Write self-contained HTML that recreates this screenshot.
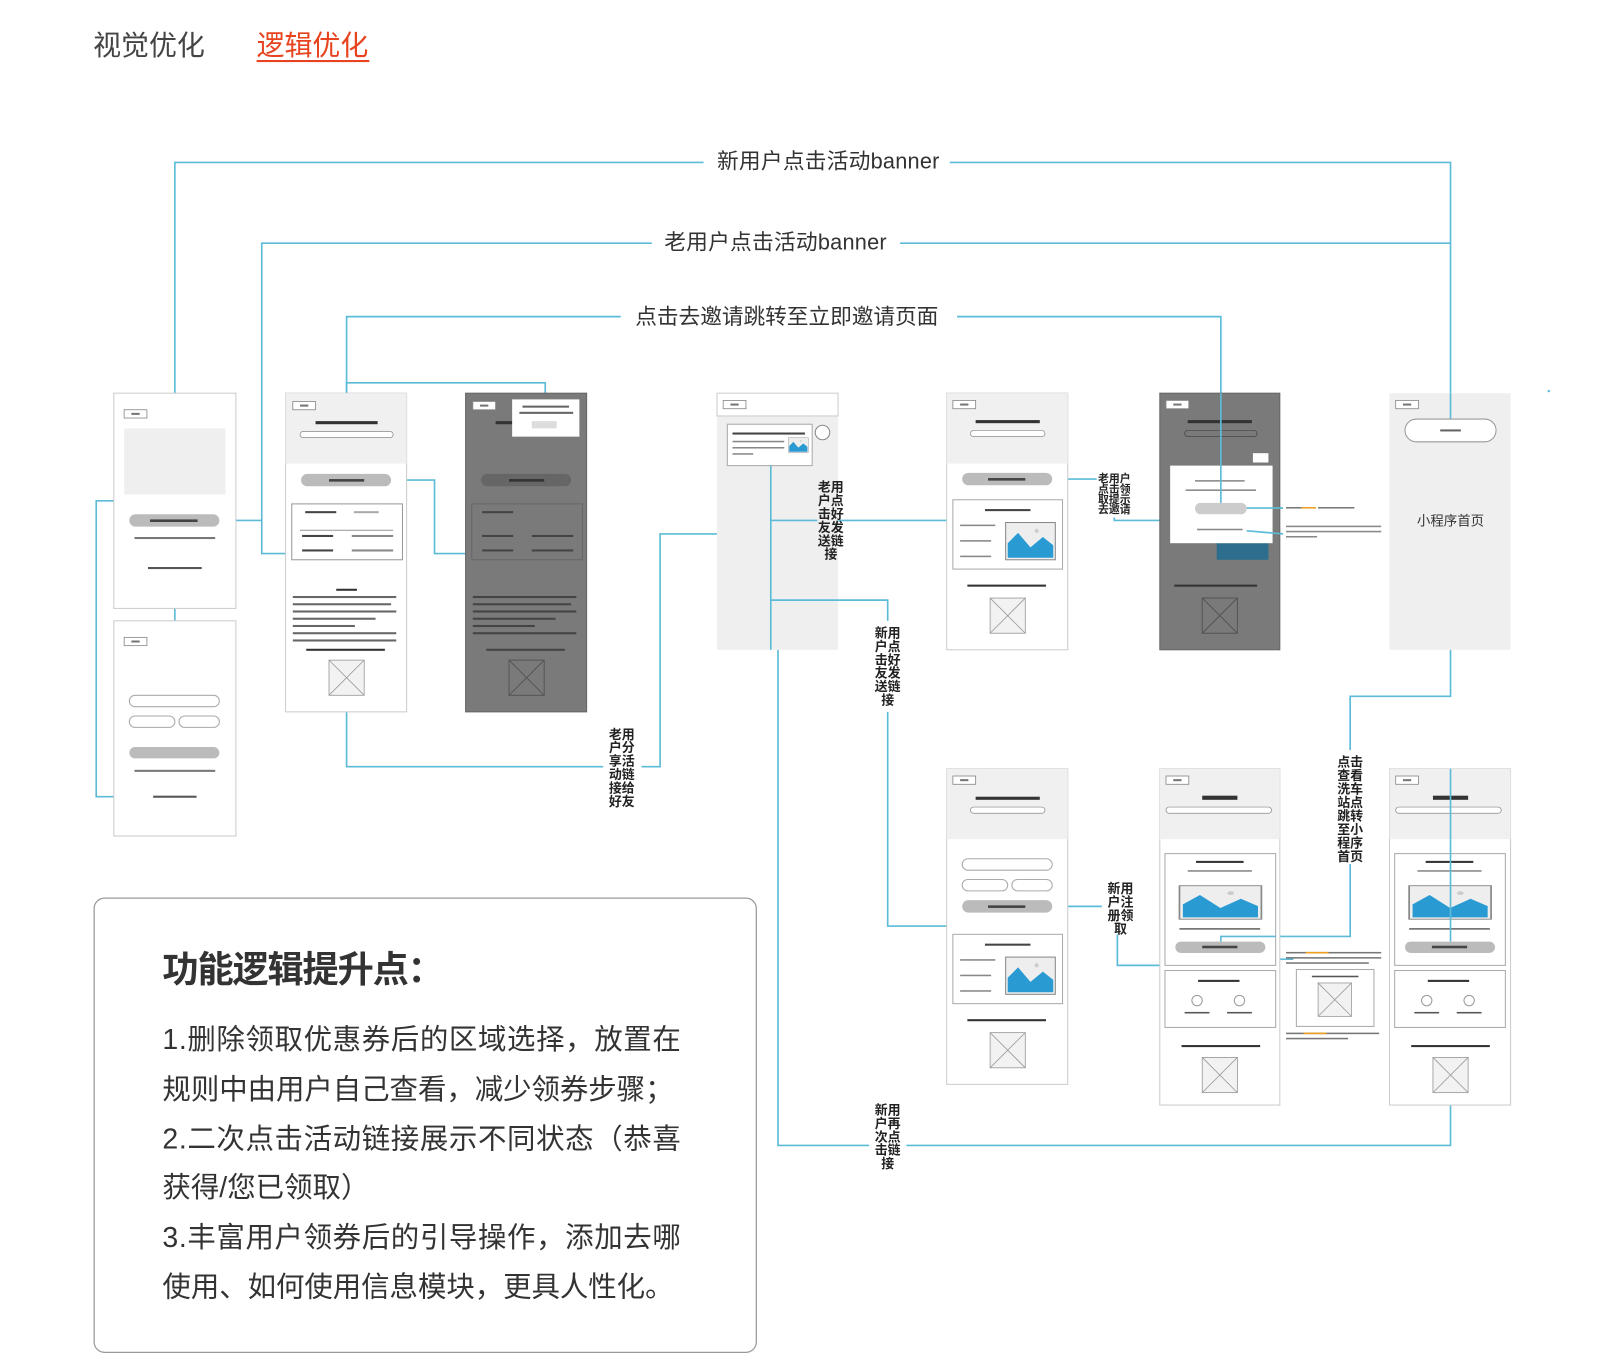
<!DOCTYPE html>
<html><head><meta charset="utf-8"><style>
html,body{margin:0;padding:0;background:#fff}
svg{display:block}
text{font-family:"Liberation Sans","Noto Sans CJK SC",sans-serif}
</style></head><body>
<svg width="1614" height="1372" viewBox="0 0 1560 1326" preserveAspectRatio="none" xmlns="http://www.w3.org/2000/svg">
<defs>
<g id="ph">
 <rect x="0" y="0" width="34" height="34" fill="#f2f2f2" stroke="#999" stroke-width="0.8"/>
 <line x1="0" y1="0" x2="34" y2="34" stroke="#999" stroke-width="0.8"/>
 <line x1="34" y1="0" x2="0" y2="34" stroke="#999" stroke-width="0.8"/>
</g>
<g id="logo"><rect x="0" y="0" width="22" height="8" fill="#fff" stroke="#888" stroke-width="0.8"/><rect x="7" y="3" width="8" height="2" fill="#777"/></g>
<g id="mtn">
 <rect x="0" y="0" width="48" height="36" fill="#eee" stroke="#888" stroke-width="1"/>
 <polygon points="2,34 2,20 12,10 24,24 36,14 46,22 46,34" fill="#2a9ad2"/>
 <circle cx="30" cy="8" r="2" fill="#ccc"/>
</g>
</defs>

<!-- tabs -->
<text x="90" y="53" font-size="27" fill="#444">视觉优化</text>
<text x="248" y="53" font-size="27" fill="#e8431f">逻辑优化</text>
<rect x="248" y="58" width="109" height="2" fill="#e8431f"/>

<!-- connectors -->
<g fill="none" stroke="#5cbcd8" stroke-width="1.6">
 <polyline points="169,380 169,157 680,157"/>
 <polyline points="918,157 1402,157 1402,405"/>
 <polyline points="276,535 253,535 253,235 630,235"/>
 <polyline points="870,235 1402,235"/>
 <polyline points="335,380 335,306 600,306"/>
 <polyline points="925,306 1180,306 1180,490"/>
 <polyline points="335,380 335,370 527,370 527,405"/>
 <polyline points="212,503 253,503"/>
 <polyline points="378,464 420,464 420,535 450,535"/>
 <polyline points="169,550 169,600"/>
 <polyline points="130,770 93,770 93,484 110,484"/>
 <polyline points="335,688 335,741 583,741"/>
 <polyline points="620,741 638,741 638,516 693,516"/>
 <polyline points="745,450 745,580 858,580 858,600"/>
 <polyline points="858,688 858,895 915,895"/>
 <polyline points="745,503 790,503"/>
 <polyline points="822,503 915,503"/>
 <polyline points="752,628 752,1107 840,1107"/>
 <polyline points="876,1107 1402,1107 1402,1068"/>
 <polyline points="1017,463 1060,463"/>
 <polyline points="1077,500 1077,503 1121,503"/>
 <polyline points="1205,491 1240,491"/>
 <polyline points="1205,513 1225,513 1240,516"/>
 <polyline points="1402,628 1402,673 1305,673 1305,725"/>
 <polyline points="1305,835 1305,905 1180,905 1180,910"/>
 <polyline points="1017,876 1065,876"/>
 <polyline points="1080,903 1080,933 1121,933"/>
 <polyline points="1222,915 1233,915 1233,927 1250,927"/>
</g>
<circle cx="1497" cy="378" r="1.2" fill="#5cbcd8"/>

<!-- connector labels -->
<g font-size="21" fill="#333">
 <text x="693" y="163" textLength="215">新用户点击活动banner</text>
 <text x="642" y="241" textLength="215">老用户点击活动banner</text>
 <text x="614" y="313" textLength="293">点击去邀请跳转至立即邀请页面</text>
</g>

<!-- B1 -->
<rect x="110" y="380" width="118" height="208" fill="#fff" stroke="#ccc"/>
<use href="#logo" x="120" y="396"/>
<rect x="120" y="414" width="98" height="64" fill="#efefef"/>
<rect x="125" y="497" width="87" height="12" rx="6" fill="#bbb"/>
<rect x="145" y="502" width="46" height="2.5" fill="#444"/>
<rect x="130" y="519" width="78" height="2" fill="#777"/>
<rect x="143" y="548" width="52" height="2" fill="#555"/>
<!-- B1b -->
<rect x="110" y="600" width="118" height="208" fill="#fff" stroke="#ccc"/>
<use href="#logo" x="120" y="616"/>
<rect x="125" y="672" width="87" height="11" rx="5.5" fill="#fff" stroke="#aaa"/>
<rect x="125" y="692" width="44" height="11" rx="5.5" fill="#fff" stroke="#aaa"/>
<rect x="173" y="692" width="39" height="11" rx="5.5" fill="#fff" stroke="#aaa"/>
<rect x="125" y="722" width="87" height="11" rx="5.5" fill="#bbb"/>
<rect x="130" y="744" width="78" height="2" fill="#777"/>
<rect x="148" y="769" width="42" height="2" fill="#555"/>

<!-- B2 -->
<rect x="276" y="380" width="117" height="308" fill="#fff" stroke="#ccc"/>
<rect x="276" y="380" width="117" height="68" fill="#f0f0f0"/>
<use href="#logo" x="283" y="388"/>
<rect x="305" y="407" width="60" height="3" fill="#333"/>
<rect x="290" y="417" width="90" height="6" rx="3" fill="#fff" stroke="#888" stroke-width="0.7"/>
<rect x="291" y="458" width="87" height="12" rx="6" fill="#bbb"/>
<rect x="318" y="463" width="34" height="2.5" fill="#444"/>
<rect x="282" y="487" width="107" height="54" fill="#fff" stroke="#999"/>
<rect x="295" y="494" width="30" height="2" fill="#444"/><rect x="342" y="494" width="24" height="2" fill="#aaa"/>
<rect x="290" y="512" width="90" height="1" fill="#999"/>
<rect x="292" y="517" width="30" height="2" fill="#444"/><rect x="340" y="517" width="40" height="2" fill="#888"/>
<rect x="292" y="531" width="30" height="2" fill="#444"/><rect x="340" y="531" width="40" height="2" fill="#888"/>
<rect x="325" y="569" width="20" height="2" fill="#333"/>
<g fill="#666"><rect x="283" y="576" width="100" height="2"/><rect x="283" y="583" width="95" height="2"/><rect x="283" y="590" width="100" height="2"/><rect x="283" y="597" width="80" height="2"/><rect x="283" y="604" width="60" height="2"/><rect x="283" y="611" width="100" height="2"/><rect x="283" y="618" width="100" height="2"/></g>
<rect x="296" y="627" width="76" height="2" fill="#333"/>
<use href="#ph" x="318" y="638"/>

<!-- B3 dark -->
<rect x="450" y="380" width="117" height="308" fill="#7a7a7a" stroke="#666"/>
<use href="#logo" x="457" y="388"/>
<rect x="479" y="407" width="20" height="3" fill="#333"/>
<rect x="465" y="458" width="87" height="12" rx="6" fill="#666"/>
<rect x="492" y="463" width="34" height="2.5" fill="#333"/>
<rect x="456" y="487" width="107" height="54" fill="none" stroke="#666"/>
<g fill="#444"><rect x="466" y="494" width="30" height="2"/><rect x="466" y="517" width="30" height="2"/><rect x="466" y="531" width="30" height="2"/><rect x="514" y="517" width="40" height="2"/><rect x="514" y="531" width="40" height="2"/>
<rect x="457" y="576" width="100" height="2"/><rect x="457" y="583" width="95" height="2"/><rect x="457" y="590" width="100" height="2"/><rect x="457" y="597" width="80" height="2"/><rect x="457" y="604" width="60" height="2"/><rect x="457" y="611" width="100" height="2"/><rect x="470" y="627" width="76" height="2"/></g>
<rect x="492" y="638" width="34" height="34" fill="none" stroke="#555"/><line x1="492" y1="638" x2="526" y2="672" stroke="#555"/><line x1="526" y1="638" x2="492" y2="672" stroke="#555"/>
<rect x="495" y="386" width="65" height="36" fill="#fff"/>
<rect x="505" y="392" width="45" height="2" fill="#666"/><rect x="502" y="398" width="52" height="2" fill="#666"/>
<rect x="514" y="407" width="24" height="7" fill="#ddd"/>

<!-- B4 -->
<rect x="693" y="380" width="117" height="248" fill="#efefef"/>
<rect x="693" y="380" width="117" height="22" fill="#fff" stroke="#ccc"/>
<use href="#logo" x="699" y="387"/>
<rect x="703" y="410" width="82" height="40" fill="#fff" stroke="#aaa"/>
<rect x="708" y="418" width="70" height="2" fill="#444"/>
<rect x="708" y="426" width="50" height="1.5" fill="#888"/><rect x="708" y="432" width="50" height="1.5" fill="#888"/><rect x="708" y="438" width="20" height="1.5" fill="#888"/>
<g transform="translate(762,423) scale(0.4)"><use href="#mtn"/></g>
<circle cx="795" cy="418" r="7" fill="#fff" stroke="#888"/>
<g fill="none" stroke="#5cbcd8" stroke-width="1.6">
 <polyline points="745,450 745,628"/>
 <polyline points="745,503 790,503"/>
 <polyline points="822,503 810,503"/>
 <polyline points="745,580 810,580"/>
</g>

<!-- B5 -->
<rect x="915" y="380" width="117" height="248" fill="#fff" stroke="#ccc"/>
<rect x="915" y="380" width="117" height="68" fill="#f0f0f0"/>
<use href="#logo" x="921" y="387"/>
<rect x="943" y="406" width="62" height="3" fill="#333"/>
<rect x="938" y="416" width="72" height="6" rx="3" fill="#fff" stroke="#888" stroke-width="0.7"/>
<rect x="930" y="457" width="87" height="12" rx="6" fill="#bbb"/>
<rect x="955" y="462" width="36" height="2.5" fill="#444"/>
<rect x="921" y="483" width="106" height="67" fill="#fff" stroke="#aaa"/>
<rect x="952" y="492" width="44" height="2" fill="#444"/>
<rect x="928" y="507" width="34" height="1.5" fill="#888"/><rect x="928" y="522" width="30" height="1.5" fill="#888"/><rect x="928" y="537" width="30" height="1.5" fill="#888"/>
<use href="#mtn" x="972" y="505"/>
<rect x="935" y="565" width="76" height="2" fill="#333"/>
<use href="#ph" x="957" y="578"/>

<!-- B6 dark -->
<rect x="1121" y="380" width="116" height="248" fill="#7a7a7a" stroke="#666"/>
<use href="#logo" x="1127" y="387"/>
<rect x="1148" y="406" width="62" height="3" fill="#333"/>
<rect x="1145" y="416" width="70" height="6" rx="3" fill="none" stroke="#444" stroke-width="0.7"/>
<rect x="1176" y="505" width="50" height="36" fill="#2d6e8e"/>
<rect x="1211" y="438" width="15" height="9" fill="#fff"/>
<rect x="1131" y="450" width="99" height="75" fill="#fff"/>
<rect x="1155" y="464" width="48" height="1.5" fill="#888"/><rect x="1146" y="473" width="68" height="1.5" fill="#888"/>
<rect x="1155" y="486" width="50" height="11" rx="5.5" fill="#ccc"/>
<rect x="1157" y="511" width="44" height="1.5" fill="#888"/>
<rect x="1135" y="565" width="80" height="2" fill="#333"/>
<rect x="1162" y="578" width="34" height="34" fill="none" stroke="#555"/><line x1="1162" y1="578" x2="1196" y2="612" stroke="#555"/><line x1="1196" y1="578" x2="1162" y2="612" stroke="#555"/>
<line x1="1180" y1="380" x2="1180" y2="486" stroke="#5cbcd8" stroke-width="1.6"/>
<polyline points="1205,491 1240,491" fill="none" stroke="#5cbcd8" stroke-width="1.6"/>
<polyline points="1205,513 1240,516" fill="none" stroke="#5cbcd8" stroke-width="1.6"/>
<rect x="1243" y="490" width="15" height="1.5" fill="#777"/><rect x="1258" y="490" width="14" height="1.5" fill="#f0a020"/><rect x="1274" y="490" width="35" height="1.5" fill="#777"/>
<rect x="1243" y="508" width="92" height="1.5" fill="#888"/><rect x="1243" y="513" width="92" height="1.5" fill="#888"/><rect x="1243" y="518" width="30" height="1.5" fill="#888"/>

<!-- B8 -->
<rect x="1343" y="380" width="117" height="248" fill="#efefef"/>
<use href="#logo" x="1349" y="387"/>
<line x1="1402" y1="380" x2="1402" y2="405" stroke="#5cbcd8" stroke-width="1.6"/>
<rect x="1358" y="405" width="88" height="22" rx="11" fill="#fff" stroke="#999"/>
<rect x="1392" y="415" width="20" height="2" fill="#666"/>
<text x="1402" y="508" font-size="13" fill="#333" text-anchor="middle">小程序首页</text>

<!-- B7 -->
<rect x="915" y="743" width="117" height="305" fill="#fff" stroke="#ccc"/>
<rect x="915" y="743" width="117" height="68" fill="#f0f0f0"/>
<use href="#logo" x="921" y="750"/>
<rect x="943" y="770" width="62" height="3" fill="#333"/>
<rect x="938" y="780" width="72" height="6" rx="3" fill="#fff" stroke="#888" stroke-width="0.7"/>
<rect x="930" y="830" width="87" height="11" rx="5.5" fill="#fff" stroke="#aaa"/>
<rect x="930" y="850" width="44" height="11" rx="5.5" fill="#fff" stroke="#aaa"/>
<rect x="978" y="850" width="39" height="11" rx="5.5" fill="#fff" stroke="#aaa"/>
<rect x="930" y="870" width="87" height="12" rx="6" fill="#bbb"/>
<rect x="955" y="875" width="36" height="2.5" fill="#444"/>
<rect x="921" y="903" width="106" height="67" fill="#fff" stroke="#aaa"/>
<rect x="952" y="912" width="44" height="2" fill="#444"/>
<rect x="928" y="927" width="34" height="1.5" fill="#888"/><rect x="928" y="942" width="30" height="1.5" fill="#888"/><rect x="928" y="957" width="30" height="1.5" fill="#888"/>
<use href="#mtn" x="972" y="925"/>
<rect x="935" y="985" width="76" height="2" fill="#333"/>
<use href="#ph" x="957" y="998"/>

<!-- B9 -->
<rect x="1121" y="743" width="116" height="325" fill="#fff" stroke="#ccc"/>
<rect x="1121" y="743" width="116" height="68" fill="#f0f0f0"/>
<use href="#logo" x="1127" y="750"/>
<rect x="1162" y="769" width="34" height="4" fill="#333"/>
<rect x="1127" y="780" width="102" height="6" rx="3" fill="#fff" stroke="#888" stroke-width="0.7"/>
<rect x="1126" y="825" width="107" height="108" fill="#fff" stroke="#aaa"/>
<rect x="1156" y="832" width="46" height="2" fill="#333"/><rect x="1148" y="841" width="62" height="1.5" fill="#888"/>
<g transform="translate(1140,856) scale(1.65,0.9)"><use href="#mtn"/></g>
<rect x="1140" y="897" width="78" height="1.5" fill="#666"/>
<polyline points="1180,910 1180,905 1233,905" fill="none" stroke="#5cbcd8" stroke-width="1.6"/>
<rect x="1136" y="910" width="87" height="11" rx="5.5" fill="#bbb"/>
<rect x="1162" y="914" width="34" height="2.5" fill="#444"/>
<rect x="1126" y="938" width="107" height="55" fill="#fff" stroke="#aaa"/>
<rect x="1158" y="947" width="40" height="2" fill="#333"/>
<circle cx="1157" cy="967" r="5" fill="#fff" stroke="#999"/><circle cx="1198" cy="967" r="5" fill="#fff" stroke="#999"/>
<rect x="1145" y="978" width="24" height="1.5" fill="#555"/><rect x="1186" y="978" width="24" height="1.5" fill="#555"/>
<rect x="1142" y="1010" width="76" height="2" fill="#333"/>
<use href="#ph" x="1162" y="1022"/>
<!-- annotation -->
<rect x="1243" y="920" width="92" height="1.5" fill="#777"/><rect x="1262" y="920" width="22" height="1.5" fill="#f0a020"/>
<rect x="1243" y="925" width="92" height="1.5" fill="#777"/><rect x="1243" y="930" width="80" height="1.5" fill="#777"/>
<rect x="1253" y="937" width="75" height="55" fill="#fff" stroke="#aaa"/>
<rect x="1268" y="943" width="45" height="1.5" fill="#555"/>
<g transform="translate(1274,950) scale(0.95)"><use href="#ph"/></g>
<rect x="1243" y="998" width="90" height="1.5" fill="#777"/><rect x="1260" y="998" width="22" height="1.5" fill="#f0a020"/><rect x="1243" y="1003" width="60" height="1.5" fill="#777"/>

<!-- B10 -->
<rect x="1343" y="743" width="117" height="325" fill="#fff" stroke="#ccc"/>
<rect x="1343" y="743" width="117" height="68" fill="#f0f0f0"/>
<use href="#logo" x="1349" y="750"/>
<rect x="1385" y="769" width="34" height="4" fill="#333"/>
<rect x="1349" y="780" width="102" height="6" rx="3" fill="#fff" stroke="#888" stroke-width="0.7"/>
<rect x="1348" y="825" width="107" height="108" fill="#fff" stroke="#aaa"/>
<rect x="1378" y="832" width="46" height="2" fill="#333"/><rect x="1370" y="841" width="62" height="1.5" fill="#888"/>
<g transform="translate(1362,856) scale(1.65,0.9)"><use href="#mtn"/></g>
<rect x="1362" y="897" width="78" height="1.5" fill="#666"/>
<rect x="1358" y="910" width="87" height="11" rx="5.5" fill="#bbb"/>
<rect x="1384" y="914" width="34" height="2.5" fill="#444"/>
<rect x="1348" y="938" width="107" height="55" fill="#fff" stroke="#aaa"/>
<rect x="1380" y="947" width="40" height="2" fill="#333"/>
<circle cx="1379" cy="967" r="5" fill="#fff" stroke="#999"/><circle cx="1420" cy="967" r="5" fill="#fff" stroke="#999"/>
<rect x="1367" y="978" width="24" height="1.5" fill="#555"/><rect x="1408" y="978" width="24" height="1.5" fill="#555"/>
<rect x="1364" y="1010" width="76" height="2" fill="#333"/>
<use href="#ph" x="1385" y="1022"/>
<line x1="1402" y1="743" x2="1402" y2="910" stroke="#5cbcd8" stroke-width="1.6"/>

<!-- vertical labels (on top) -->
<g font-size="12.5" font-weight="bold" fill="#222" text-anchor="middle">
 <text x="601" y="714">老用</text><text x="601" y="727">户分</text><text x="601" y="740">享活</text><text x="601" y="753">动链</text><text x="601" y="766">接给</text><text x="601" y="779">好友</text>
 <text x="803" y="475">老用</text><text x="803" y="488">户点</text><text x="803" y="501">击好</text><text x="803" y="514">友发</text><text x="803" y="527">送链</text><text x="803" y="540">接</text>
 <text x="858" y="616">新用</text><text x="858" y="629">户点</text><text x="858" y="642">击好</text><text x="858" y="655">友发</text><text x="858" y="668">送链</text><text x="858" y="681">接</text>
 <text x="1077" y="466" font-size="10.5">老用户</text><text x="1077" y="476" font-size="10.5">点击领</text><text x="1077" y="486" font-size="10.5">取提示</text><text x="1077" y="496" font-size="10.5">去邀请</text>
 <text x="1305" y="741">点击</text><text x="1305" y="754">查看</text><text x="1305" y="767">洗车</text><text x="1305" y="780">站点</text><text x="1305" y="793">跳转</text><text x="1305" y="806">至小</text><text x="1305" y="819">程序</text><text x="1305" y="832">首页</text>
 <text x="1083" y="863">新用</text><text x="1083" y="876">户注</text><text x="1083" y="889">册领</text><text x="1083" y="902">取</text>
 <text x="858" y="1077">新用</text><text x="858" y="1090">户再</text><text x="858" y="1103">次点</text><text x="858" y="1116">击链</text><text x="858" y="1129">接</text>
</g>

<!-- text box -->
<rect x="91" y="868" width="640" height="439" rx="10" fill="#fff" stroke="#999" stroke-width="1.2"/>
<text x="157" y="949" font-size="35" font-weight="bold" fill="#333" textLength="272">功能逻辑提升点：</text>
<g font-size="27.5" fill="#333">
 <text x="157" y="1014" textLength="501">1.删除领取优惠券后的区域选择，放置在</text>
 <text x="157" y="1062" textLength="494">规则中由用户自己查看，减少领券步骤；</text>
 <text x="157" y="1110" textLength="501">2.二次点击活动链接展示不同状态（恭喜</text>
 <text x="157" y="1157">获得/您已领取）</text>
 <text x="157" y="1205" textLength="501">3.丰富用户领券后的引导操作，添加去哪</text>
 <text x="157" y="1253" textLength="494">使用、如何使用信息模块，更具人性化。</text>
</g>
</svg>
</body></html>
